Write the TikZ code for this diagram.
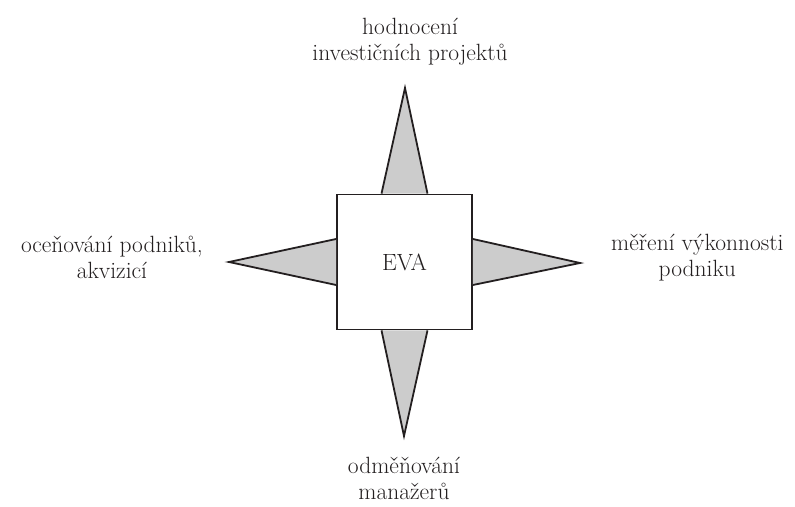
\documentclass[tikz,border=0pt]{standalone}
\usepackage{fontspec}
\usetikzlibrary{positioning}
\definecolor{SpikeGray}{HTML}{CCCCCC}
\definecolor{InkBlack}{HTML}{231F20}
\tikzset{
    spike/.style={draw=InkBlack,line width=1.8pt,fill=SpikeGray},
    evabox/.style={draw=InkBlack,line width=1.8pt,fill=white,minimum width=135pt,minimum height=135pt},
    labeltext/.style={align=center,inner sep=0pt,text=InkBlack,font=\fontsize{23.5}{26}\selectfont}
}

\begin{document}
\begin{tikzpicture}[x=1pt,y=1pt]
    \useasboundingbox (0,0) rectangle (795,506);

    \node[evabox,labeltext] (eva) at (404.5,244) {EVA};

    \coordinate (tipN) at (405,418);
    \coordinate (tipS) at (404,70);
    \coordinate (tipW) at (229,244);
    \coordinate (tipE) at (580,243);

    \draw[spike] ([xshift=-23pt]eva.north) -- (tipN) -- ([xshift=23pt]eva.north);
    \draw[spike] ([xshift=-23pt]eva.south) -- (tipS) -- ([xshift=23pt]eva.south);
    \draw[spike] ([yshift=23pt]eva.west) -- (tipW) -- ([yshift=-23pt]eva.west);
    \draw[spike] ([yshift=23pt]eva.east) -- (tipE) -- ([yshift=-23pt]eva.east);

    \node[labeltext,above=23pt of tipN,xshift=5pt] (hodnoceni) {hodnocení\\investičních projektů};
    \node[labeltext,below=21pt of tipS] (odmenovani) {odměňování\\manažerů};
    \node[labeltext,left=26pt of tipW,yshift=4.5pt] (oceneni) {oceňování podniků,\\akvizicí};
    \node[labeltext,right=31pt of tipE,yshift=5pt] (mereni) {měření výkonnosti\\podniku};
\end{tikzpicture}
\end{document}
